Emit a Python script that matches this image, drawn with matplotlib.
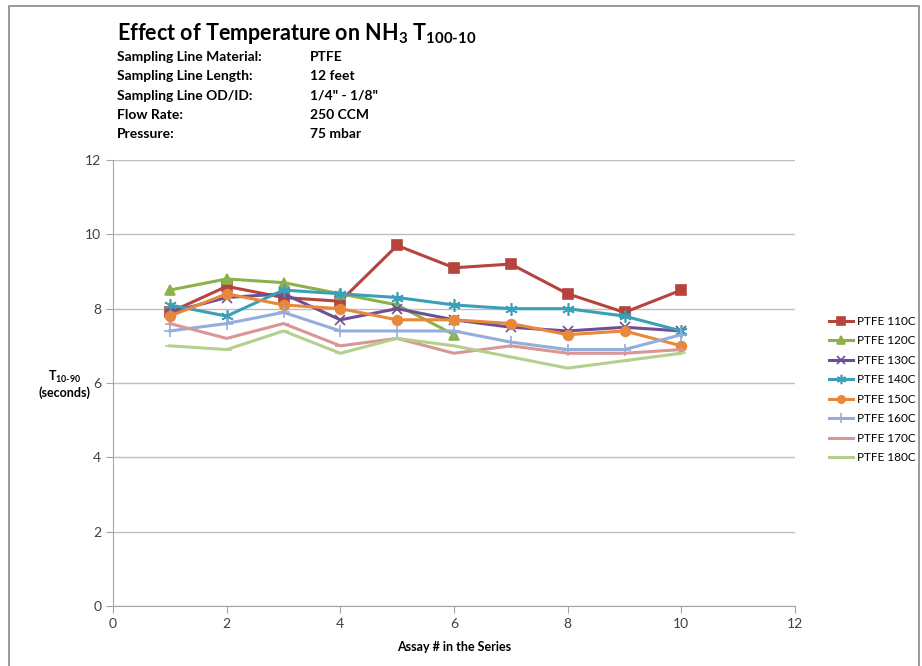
import matplotlib.pyplot as plt
from matplotlib.patches import Rectangle

plt.rcParams['font.family'] = ['Lato', 'DejaVu Sans']
plt.rcParams['mathtext.fontset'] = 'custom'
plt.rcParams['mathtext.rm'] = 'Lato:bold'
plt.rcParams['mathtext.it'] = 'Lato:bold'
plt.rcParams['mathtext.bf'] = 'Lato:bold'

assay = [1, 2, 3, 4, 5, 6, 7, 8, 9, 10]
ptfe_110 = [7.9, 8.6, 8.3, 8.2, 9.7, 9.1, 9.2, 8.4, 7.9, 8.5]
ptfe_120 = [8.5, 8.8, 8.7, 8.4, 8.1, 7.3]
ptfe_130 = [7.9, 8.3, 8.4, 7.7, 8.0, 7.7, 7.5, 7.4, 7.5, 7.4]
ptfe_140 = [8.1, 7.8, 8.5, 8.4, 8.3, 8.1, 8.0, 8.0, 7.8, 7.4]
ptfe_150 = [7.8, 8.4, 8.1, 8.0, 7.7, 7.7, 7.6, 7.3, 7.4, 7.0]
ptfe_160 = [7.4, 7.6, 7.9, 7.4, 7.4, 7.4, 7.1, 6.9, 6.9, 7.3]
ptfe_170 = [7.6, 7.2, 7.6, 7.0, 7.2, 6.8, 7.0, 6.8, 6.8, 6.9]
ptfe_180 = [7.0, 6.9, 7.4, 6.8, 7.2, 7.0, 6.7, 6.4, 6.6, 6.8]

labels = ['PTFE 110C', 'PTFE 120C', 'PTFE 130C', 'PTFE 140C',
          'PTFE 150C', 'PTFE 160C', 'PTFE 170C', 'PTFE 180C']
series = [ptfe_110, ptfe_120, ptfe_130, ptfe_140, ptfe_150, ptfe_160, ptfe_170, ptfe_180]
colors = ['#B5443F', '#8CB04A', '#6F4E93', '#3B9FB8', '#E8883A', '#93AEDC', '#D99694', '#B5D08E']
markers = ['s', '^', 'x', (6, 2, 0), 'o', '+', '_', '_']
msizes = [7, 7, 7, 9, 7, 9, 7, 7]

fig = plt.figure(figsize=(9.22, 6.66), dpi=100)
ax = fig.add_axes([113/922, 1-606/666, (795-113)/922, (606-160)/666])

for vals, lab, c, m, ms in zip(series, labels, colors, markers, msizes):
    ax.plot(assay[:len(vals)], vals, color=c, marker=m, markersize=ms,
            linewidth=2.2, label=lab, markeredgewidth=1.2)

ax.set_xlim(0, 12)
ax.set_ylim(0, 12)
ax.set_xticks(range(0, 13, 2))
ax.set_yticks(range(0, 13, 2))
ax.grid(axis='y', color='#BEBEBE', linewidth=1)
ax.set_axisbelow(True)
for s in ['top', 'right']:
    ax.spines[s].set_visible(False)
for s in ['left', 'bottom']:
    ax.spines[s].set_color('#A6A6A6')
ax.tick_params(colors='#A6A6A6', labelcolor='#404040', labelsize=10, length=5)

ax.set_xlabel('Assay # in the Series', fontsize=9, fontweight='bold', labelpad=8)
fig.text(64/922, 1-384/666, 'T$_{10\u201090}$\n(seconds)', fontsize=9, fontweight='bold',
         ha='center', va='center', linespacing=1.1)

ax.legend(loc='center left', bbox_to_anchor=(1.035, 0.485), frameon=False,
          fontsize=8.5, handlelength=2.0, labelspacing=0.72, handletextpad=0.3,
          markerscale=0.75)

fig.text(117/922, 1-33/666, 'Effect of Temperature on NH$_3$ T$_{100\u201010}$',
         fontsize=15.5, fontweight='bold', va='center')
info_keys = ['Sampling Line Material:', 'Sampling Line Length:', 'Sampling Line OD/ID:',
             'Flow Rate:', 'Pressure:']
info_vals = ['PTFE', '12 feet', '1/4" - 1/8"', '250 CCM', '75 mbar']
for i, (k, v) in enumerate(zip(info_keys, info_vals)):
    y = 1 - (57 + i * 19.3) / 666
    fig.text(117/922, y, k, fontsize=10, fontweight='bold', va='center')
    fig.text(310/922, y, v, fontsize=10, fontweight='bold', va='center')

fig.patches.append(Rectangle((9/922, -0.01), (919-9)/922, 1 - 6/666 + 0.01,
                             transform=fig.transFigure, fill=False,
                             edgecolor='#888888', linewidth=1.2))

fig.savefig('out.png', dpi=100)
